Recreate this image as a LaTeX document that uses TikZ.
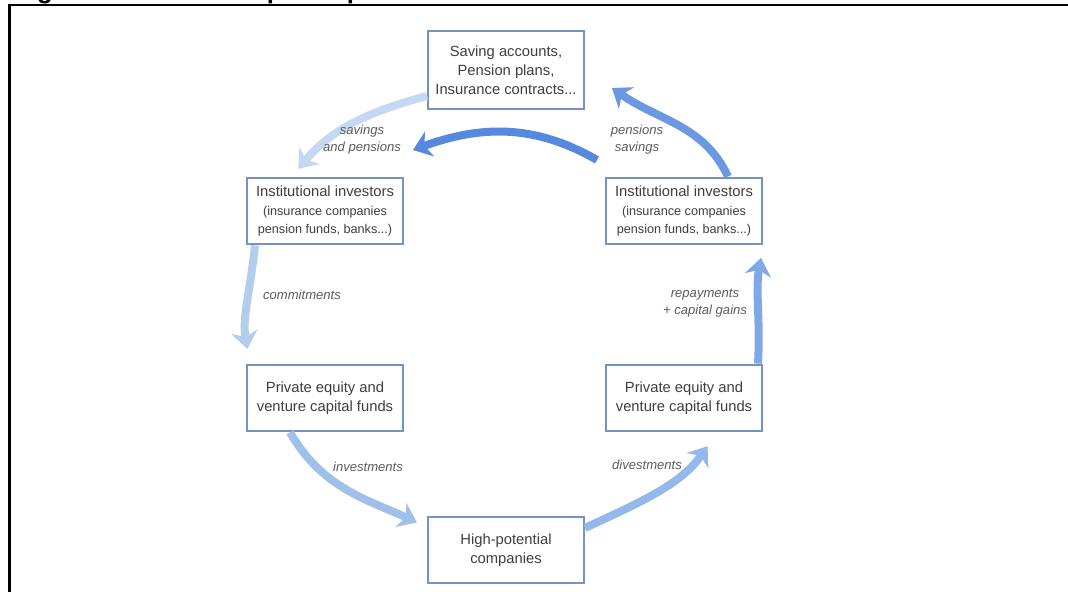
\documentclass[tikz,border=0pt]{standalone}
\usepackage{fontspec}
\setmainfont{Liberation Sans}
\usetikzlibrary{arrows.meta,positioning,calc}
\definecolor{boxcolor}{RGB}{112,148,196}
\definecolor{txtcolor}{RGB}{62,62,62}
\definecolor{lblcolor}{RGB}{92,92,92}
\definecolor{flowpale}{RGB}{196,216,241}
\definecolor{flowdark}{RGB}{86,136,222}
\definecolor{flowup}{RGB}{108,152,226}
\definecolor{flowcommit}{RGB}{180,205,236}
\definecolor{flowinvest}{RGB}{160,192,234}
\definecolor{flowdivest}{RGB}{148,184,236}
\definecolor{flowrepay}{RGB}{128,168,230}
\newcommand{\subline}{\fontsize{9}{12.9}\selectfont}

\begin{document}
\begin{tikzpicture}[x=0.025cm,y=0.025cm,
  stage/.style={draw=boxcolor,line width=1.4pt,fill=white,text=txtcolor,align=center,
    minimum width=3.9cm,minimum height=1.67cm,inner sep=2pt,font=\fontsize{10.5}{13.4}\selectfont},
  flow/.style={line width=0.2cm,-{Stealth[length=0.44cm,width=0.66cm,inset=0.14cm]}},
  flowlabel/.style={draw=none,fill=none,text=lblcolor,align=center,inner sep=1pt,
    font=\fontsize{9.3}{12}\selectfont\itshape}]
\useasboundingbox (0,0) rectangle (1068,592);
\node[anchor=base west,inner sep=0pt,font=\fontsize{18.3}{20}\selectfont\bfseries] (title) at (14,593.6)
  {Figure 1: Venture Capital Operation Model in the US};
\draw[line width=1.5pt] (9.5,0) -- (9.5,587) -- (1068,587);
\node[stage,minimum height=1.93cm] (acct) at (506,522) {Saving accounts,\\Pension plans,\\Insurance contracts...};
\node[stage] (instl) at (325,381) {Institutional investors\\\subline (insurance companies\\\subline pension funds, banks...)};
\node[stage] (instr) at (684,381) {Institutional investors\\\subline (insurance companies\\\subline pension funds, banks...)};
\node[stage] (pel) at (325,194) {Private equity and\\venture capital funds};
\node[stage] (per) at (684,194) {Private equity and\\venture capital funds};
\node[stage] (hpc) at (506,42) {High-potential\\companies};
\coordinate (pensS) at (597,432);
\coordinate (pensE) at (413,442);
\coordinate (upE) at (612,504);
\draw[flow,flowpale,shorten >=0.25cm] ([yshift=-0.65cm]acct.west) to[out=195,in=50] ([xshift=-0.83cm]instl.north);
\draw[flow,flowdark] (pensS) to[out=150,in=20] (pensE);
\draw[flow,flowup] ([xshift=1.1cm]instr.north) to[out=115,in=-35] (upE);
\draw[flow,flowcommit,shorten >=0.37cm] ([xshift=-1.75cm]instl.south) to[out=264,in=100] ([xshift=-1.875cm]pel.north);
\draw[flow,flowinvest,shorten >=0.28cm] ([xshift=-0.875cm]pel.south) to[out=-60,in=155] ([yshift=0.57cm]hpc.west);
\draw[flow,flowdivest,shorten >=0.42cm] ([yshift=0.55cm]hpc.east) to[out=25,in=235] ([xshift=0.83cm]per.south);
\draw[flow,flowrepay,shorten >=0.32cm] ([xshift=1.85cm]per.north) to[out=87,in=-100] ([xshift=1.98cm]instr.south);
\node[flowlabel] (lsav) at (362,452) {savings\\and pensions};
\node[flowlabel] (lpen) at (637,452) {pensions\\savings};
\node[flowlabel] (lcom) at (302,297) {commitments};
\node[flowlabel] (lrep) at (705,289) {repayments\\+ capital gains};
\node[flowlabel] (linv) at (368,125) {investments};
\node[flowlabel] (ldiv) at (647,127) {divestments};
\end{tikzpicture}
\end{document}
